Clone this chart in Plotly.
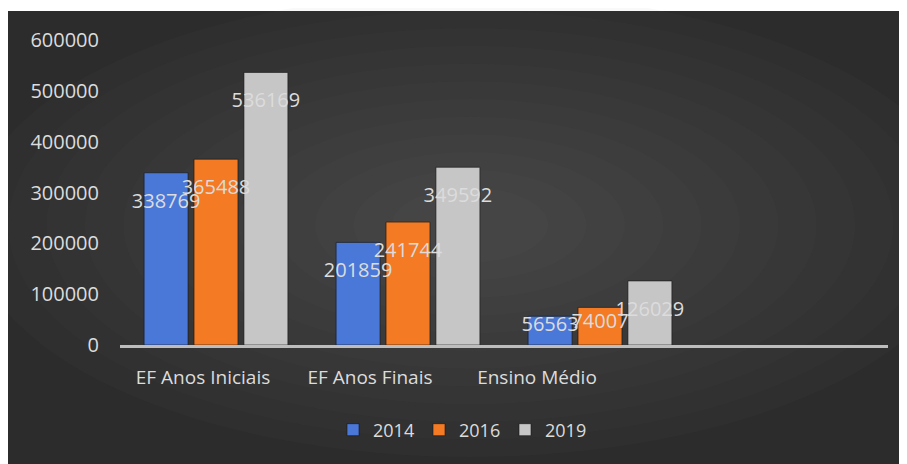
import plotly.graph_objects as go

categories = ["EF Anos Iniciais", "EF Anos Finais", "Ensino Médio"]
series_names = ["2014", "2016", "2019"]
values_2014 = [338769, 201859, 56563]
values_2016 = [365488, 241744, 74007]
values_2019 = [536169, 349592, 126029]
y_ticks = [0, 100000, 200000, 300000, 400000, 500000, 600000]

colors = ["#4a78d8", "#f47a24", "#c6c6c6"]
# invisible marker sizes used only to push the value labels below each bar top
label_pad = [[30, 30, 0], [30, 30, 7], [30, 30, 30]]
txt = "#dcdcdc"
FONT = "Open Sans"

W, H = 907, 464
OFF = 8  # page body margin
L, R, T, B = 120 - OFF, 27, 40 - OFF, 127
pw, ph = W - L - R, H - T - B

def px_x(v):  # page x -> paper
    return (v - OFF - L) / pw

def px_y(v):  # page y -> paper
    return (H - B - (v - OFF)) / ph

fig = go.Figure()
all_vals = [values_2014, values_2016, values_2019]
for name, vals, col in zip(series_names, all_vals, colors):
    fig.add_trace(go.Bar(
        x=categories, y=vals, name=name,
        marker=dict(color=col, line=dict(color="rgba(20,20,20,0.6)", width=1)),
    ))
for name, vals, pad in zip(series_names, all_vals, label_pad):
    fig.add_trace(go.Scatter(
        x=categories, y=vals, mode="markers+text", showlegend=False, hoverinfo="skip",
        text=[str(v) for v in vals], textposition="bottom center",
        textfont=dict(family=FONT, size=20, color=txt),
        marker=dict(size=pad, opacity=0), cliponaxis=False,
    ))

# invisible helper trace for the shifted category-label axis
fig.add_trace(go.Scatter(x=categories, y=[0, 0, 0], xaxis="x2", mode="none",
                         showlegend=False, hoverinfo="skip"))

shapes = [dict(type="rect", xref="paper", yref="paper", x0=px_x(0), x1=px_x(W + 20),
               y0=px_y(H + 20), y1=px_y(11), fillcolor="#2c2c2c", line=dict(width=0), layer="below")]
cx, cy = 470, 225
n = 12
for i in range(n):
    f = 1 - i / n
    rx, ry = 460 * f + 40, 212 * f + 20
    shapes.append(dict(type="circle", xref="paper", yref="paper",
                       x0=px_x(cx - rx), x1=px_x(cx + rx), y0=px_y(cy + ry), y1=px_y(cy - ry),
                       fillcolor="rgba(106,106,106,0.045)", line=dict(width=0), layer="below"))

# x2 range chosen so category labels fall where the reference draws them
lab0, lab_step = 203, 167
x2_lo = (120 - lab0) / lab_step
x2_hi = (888 - lab0) / lab_step

fig.update_layout(
    width=W, height=H, autosize=False,
    margin=dict(l=L, r=R, t=T, b=B, pad=0),
    paper_bgcolor="white", plot_bgcolor="rgba(0,0,0,0)",
    barmode="group", bargap=0.22, bargroupgap=0.12,
    scattermode="group", scattergap=0.22,
    font=dict(family=FONT, color=txt, size=19),
    shapes=shapes,
    showlegend=True,
    legend=dict(orientation="h", x=px_x(462), xanchor="center", y=px_y(430), yanchor="middle",
                font=dict(family=FONT, size=18, color=txt), bgcolor="rgba(0,0,0,0)",
                itemwidth=30, entrywidth=41, traceorder="normal"),
    xaxis=dict(type="category", range=[-0.5, 3.5], showgrid=False, zeroline=False,
               showline=True, linecolor="#bdbdbd", linewidth=3, ticks="",
               showticklabels=False),
    xaxis2=dict(type="category", overlaying="x", side="bottom", range=[x2_lo, x2_hi],
                categoryorder="array", categoryarray=categories,
                showgrid=False, zeroline=False, showline=False, ticks="",
                tickfont=dict(family=FONT, size=19, color=txt), ticklabelstandoff=19),
    yaxis=dict(range=[0, 600000], tickvals=y_ticks, ticktext=[str(v) for v in y_ticks],
               showgrid=False, zeroline=False, showline=False, ticks="",
               tickfont=dict(family=FONT, size=20, color=txt), ticklabelstandoff=20),
)

fig.write_html("out.html")
